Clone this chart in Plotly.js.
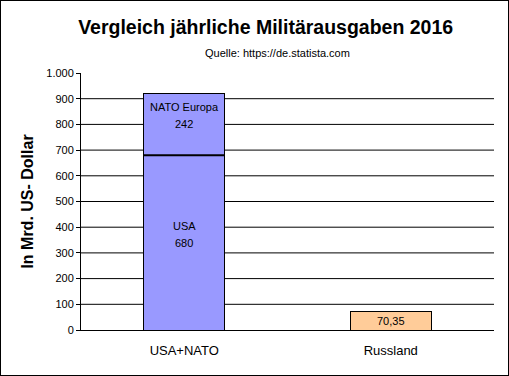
<!DOCTYPE html>
<html>
<head>
<meta charset="utf-8">
<script src="https://cdn.plot.ly/plotly-3.0.1.min.js"></script>
<style>
  html, body { margin: 0; padding: 0; background: #fff; }
  #wrap { width: 509px; height: 376px; box-sizing: border-box; border: 1px solid #000; overflow: hidden; }
  #chart { width: 507px; height: 374px; }
</style>
</head>
<body>
<div id="wrap"><div id="chart"></div></div>
<script>
var categories = ['USA+NATO', 'Russland'];
var usaValues = [680, null];
var natoValues = [242, null];
var russlandValues = [null, 70.35];
var seriesNames = ['USA', 'NATO Europa', 'Russland'];
var yTickVals = [0, 100, 200, 300, 400, 500, 600, 700, 800, 900, 1000];

var FONT = 'Liberation Sans, Arial, sans-serif';
var lineStyle = { color: '#000', width: 1 };
var barWidth = 0.39;

var traces = [
  { type: 'bar', name: seriesNames[0], x: categories, y: usaValues, width: barWidth,
    marker: { color: '#9999FF', line: lineStyle }, hoverinfo: 'skip' },
  { type: 'bar', name: seriesNames[1], x: categories, y: natoValues, width: barWidth,
    marker: { color: '#9999FF', line: lineStyle }, hoverinfo: 'skip' },
  { type: 'bar', name: seriesNames[2], x: categories, y: russlandValues, width: barWidth,
    marker: { color: '#FFCC99', line: lineStyle }, hoverinfo: 'skip' }
];

function fmt(v) { return String(v).replace('.', ','); }

var annotations = [];
var base = [0, 0];
[usaValues, natoValues, russlandValues].forEach(function (vals, si) {
  vals.forEach(function (v, ci) {
    if (v == null) return;
    var mid = base[ci] + v / 2;
    annotations.push({ x: categories[ci], y: mid, xref: 'x', yref: 'y', text: fmt(v),
      showarrow: false, font: { family: FONT, size: 11, color: '#000' } });
    if (si < 2) {
      annotations.push({ x: categories[ci], y: mid, xref: 'x', yref: 'y', yshift: 17,
        text: seriesNames[si], showarrow: false, font: { family: FONT, size: 11, color: '#000' } });
    }
    base[ci] += v;
  });
});

var plotH = 374 - 72 - 45;
annotations.push({ x: 0.475, y: (374 - 45 - 52) / plotH, xref: 'paper', yref: 'paper', yanchor: 'middle',
  text: 'Quelle: https://de.statista.com',
  showarrow: false, font: { family: FONT, size: 11, color: '#000' } });

// gridlines (no gridline at the top value) + thick divider between stacked segments
var shapes = yTickVals.slice(1, -1).map(function (v) {
  return { type: 'line', xref: 'paper', x0: 0, x1: 1, yref: 'y', y0: v, y1: v,
    line: { color: '#000', width: 1 }, layer: 'below' };
});
usaValues.forEach(function (v, ci) {
  if (v == null || natoValues[ci] == null) return;
  shapes.push({ type: 'line', xref: 'x', x0: ci - barWidth / 2, x1: ci + barWidth / 2,
    yref: 'y', y0: v, y1: v, line: { color: '#000', width: 2 }, layer: 'above' });
});

var layout = {
  width: 507, height: 374,
  margin: { l: 80, r: 14, t: 72, b: 45 },
  paper_bgcolor: '#fff', plot_bgcolor: '#fff',
  separators: ',.',
  showlegend: false,
  barmode: 'stack',
  font: { family: FONT, size: 11, color: '#000' },
  title: { text: '<b>Vergleich jährliche Militärausgaben 2016</b>', x: 0.522, xanchor: 'center',
    y: 1 - 26 / 374, yanchor: 'middle', yref: 'container',
    font: { family: FONT, size: 19.5, color: '#000' } },
  xaxis: { type: 'category', range: [-0.5, 1.5], showline: true, linecolor: '#000', linewidth: 1,
    showgrid: false, ticks: '', ticklabelstandoff: 8,
    tickfont: { family: FONT, size: 13, color: '#000' }, fixedrange: true },
  yaxis: { range: [0, 1000], tickvals: yTickVals, separatethousands: true, tickformat: ',d',
    showline: true, linecolor: '#000', linewidth: 1, ticks: 'outside', ticklen: 4, tickcolor: '#000',
    showgrid: false, zeroline: false,
    tickfont: { family: FONT, size: 11, color: '#000' },
    title: { text: '<b>In Mrd. US- Dollar</b>', standoff: 8, font: { family: FONT, size: 16, color: '#000' } },
    fixedrange: true },
  annotations: annotations,
  shapes: shapes
};

Plotly.newPlot('chart', traces, layout, { staticPlot: true });
</script>
</body>
</html>
